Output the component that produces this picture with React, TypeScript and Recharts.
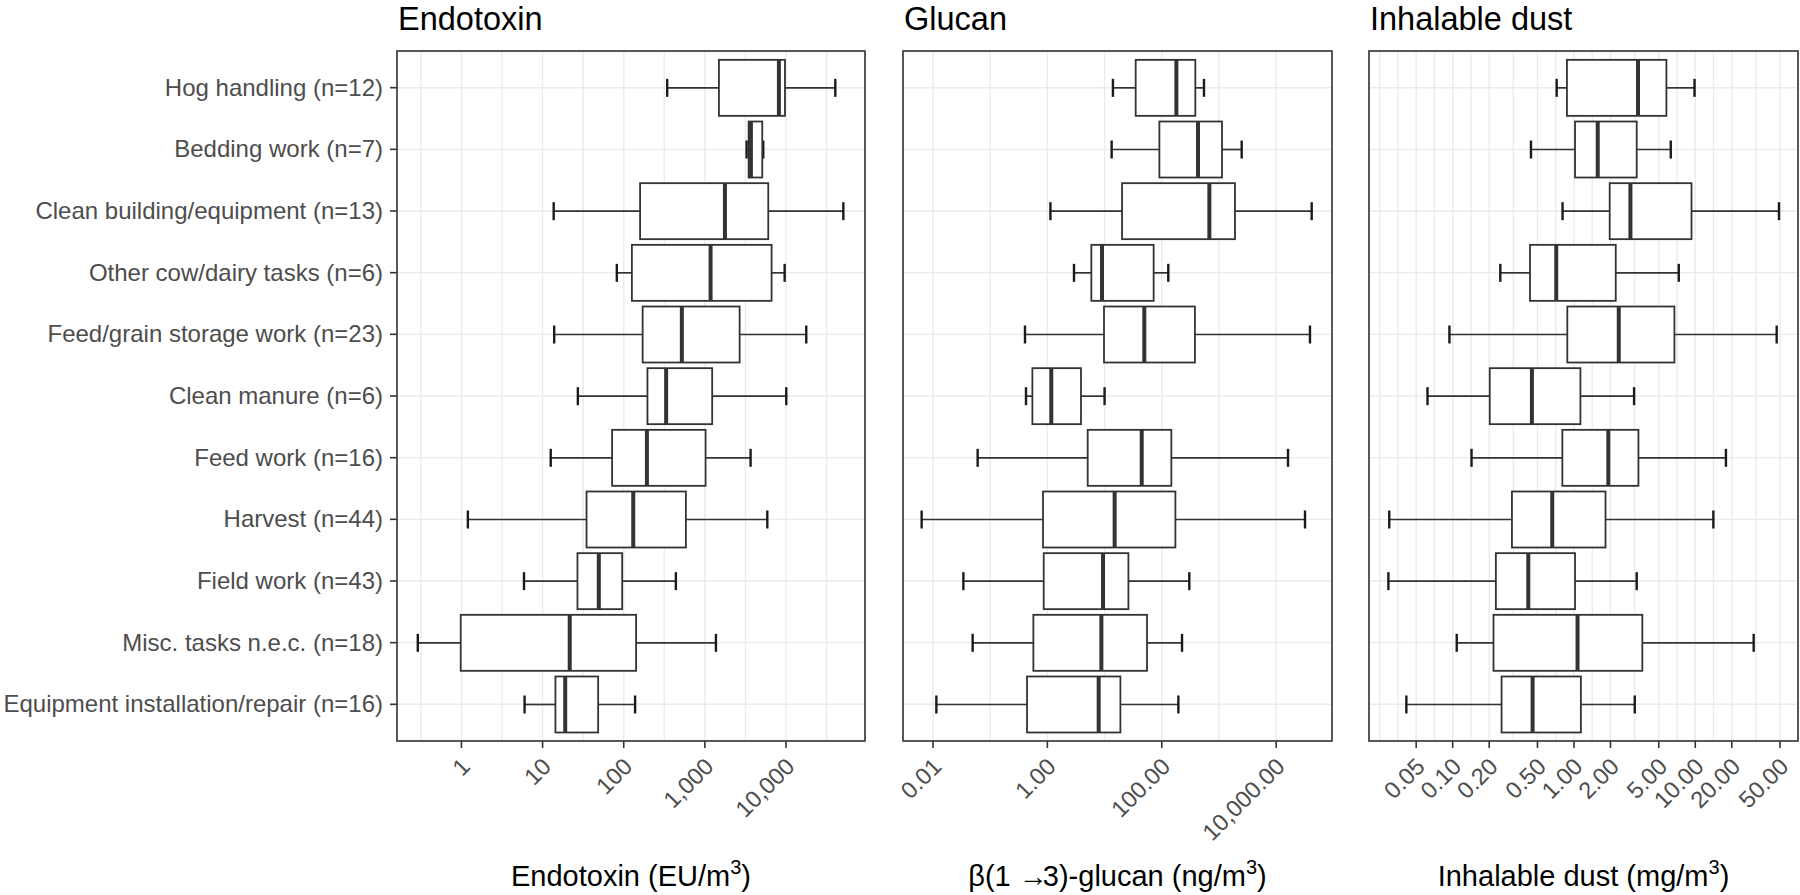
import React from 'react';
import { BarChart, Bar, XAxis, YAxis, CartesianGrid } from 'recharts';

// ---------- data ----------
const categories = [
  'Hog handling (n=12)',
  'Bedding work (n=7)',
  'Clean building/equipment (n=13)',
  'Other cow/dairy tasks (n=6)',
  'Feed/grain storage work (n=23)',
  'Clean manure (n=6)',
  'Feed work (n=16)',
  'Harvest (n=44)',
  'Field work (n=43)',
  'Misc. tasks n.e.c. (n=18)',
  'Equipment installation/repair (n=16)',
];

// Endotoxin (EU/m3)
const endoLow = [343, 3266, 13.7, 82.2, 13.9, 27.2, 12.6, 1.2, 5.9, 0.29, 6.0];
const endoQ1 = [1489, 3459, 159, 126, 171, 196, 71.9, 34.8, 26.9, 0.98, 14.4];
const endoMedian = [8166, 3690, 1766, 1175, 520, 333, 193, 131, 49.3, 21.6, 19.0];
const endoQ3 = [9705, 5093, 6039, 6637, 2679, 1230, 1019, 583, 95.7, 142, 48.4];
const endoHigh = [40460, 5236, 50816, 9616, 17742, 10069, 3656, 5875, 439, 1368, 138];

// beta(1->3)-glucan (ng/m3)
const glucanLow = [14.0, 13.3, 1.13, 2.92, 0.406, 0.423, 0.0604, 0.00634, 0.034, 0.0494, 0.01146];
const glucanQ1 = [35.0, 90.8, 20.2, 5.87, 9.77, 0.547, 5.07, 0.839, 0.863, 0.569, 0.441];
const glucanMedian = [180, 430, 679, 9.02, 49.5, 1.17, 44.6, 15.0, 9.4, 8.79, 7.89];
const glucanQ3 = [386, 1130, 1905, 72.1, 380, 3.87, 147, 173, 26.1, 55.2, 18.9];
const glucanHigh = [547, 2495, 41783, 130, 38994, 10.0, 16106, 31915, 303, 226, 195];

// Inhalable dust (mg/m3)
const dustLow = [0.72, 0.442, 0.805, 0.247, 0.094, 0.062, 0.143, 0.030, 0.0295, 0.108, 0.0415];
const dustQ1 = [0.875, 1.02, 1.97, 0.434, 0.881, 0.202, 0.802, 0.308, 0.227, 0.217, 0.253];
const dustMedian = [3.37, 1.57, 2.92, 0.714, 2.34, 0.45, 1.92, 0.662, 0.42, 1.07, 0.456];
const dustQ3 = [5.78, 3.29, 9.31, 2.21, 6.73, 1.13, 3.4, 1.82, 1.02, 3.66, 1.14];
const dustHigh = [9.86, 6.28, 49.0, 7.31, 46.9, 3.13, 17.9, 14.1, 3.29, 30.3, 3.17];

// axis ticks / limits
const endoTicks = [1, 10, 100, 1000, 10000];
const endoTickLabels = ['1', '10', '100', '1,000', '10,000'];
const endoLimits = [0.1607, 93970];

const glucanTicks = [0.01, 1, 100, 10000];
const glucanTickLabels = ['0.01', '1.00', '100.00', '10,000.00'];
const glucanLimits = [0.002992, 94620];

const dustTicks = [0.05, 0.1, 0.2, 0.5, 1, 2, 5, 10, 20, 50];
const dustTickLabels = ['0.05', '0.10', '0.20', '0.50', '1.00', '2.00', '5.00', '10.00', '20.00', '50.00'];
const dustLimits = [0.02042, 70.3];

const panelTitles = ['Endotoxin', 'Glucan', 'Inhalable dust'];

// ---------- layout ----------
const W = 1800;
const H = 895;
const PLOT_TOP = 51;
const PLOT_BOTTOM = 741;
const XAXIS_H = 60;

const FONT = '"Liberation Sans", Arial, Helvetica, sans-serif';
const LABEL_COLOR = '#4D4D4D';
const DARK = '#333333';

const log10 = (v: number) => Math.log10(v);

function minorBreaks(majors: number[], lo: number, hi: number): number[] {
  const b = [...majors];
  const bd = b[1] - b[0];
  if (lo < b[0]) b.unshift(b[0] - bd);
  if (hi > b[b.length - 1]) b.push(b[b.length - 1] + bd);
  const out: number[] = [];
  for (let i = 0; i < b.length - 1; i++) {
    out.push(b[i], (b[i] + b[i + 1]) / 2);
  }
  out.push(b[b.length - 1]);
  return out.filter(
    (v) => v >= lo && v <= hi && !majors.some((m) => Math.abs(m - v) < 1e-9)
  );
}

const BoxShape = (props: any) => {
  const { x, y, width, height, payload } = props;
  if (!payload) return null;
  const [q1, q3] = payload.box;
  const k = width / (q3 - q1);
  const px = (v: number) => x + (v - q1) * k;
  const cy = y + height / 2;
  const cap = 9;
  const xl = px(payload.lo);
  const xh = px(payload.hi);
  const xm = px(payload.med);
  return (
    <g>
      <line x1={xl} x2={x} y1={cy} y2={cy} stroke={DARK} strokeWidth={1.7} />
      <line x1={x + width} x2={xh} y1={cy} y2={cy} stroke={DARK} strokeWidth={1.7} />
      <line x1={xl} x2={xl} y1={cy - cap} y2={cy + cap} stroke="#1a1a1a" strokeWidth={2.4} />
      <line x1={xh} x2={xh} y1={cy - cap} y2={cy + cap} stroke="#1a1a1a" strokeWidth={2.4} />
      <rect x={x} y={y} width={width} height={height} fill="#FFFFFF" stroke={DARK} strokeWidth={1.8} />
      <line x1={xm} x2={xm} y1={y} y2={y + height} stroke={DARK} strokeWidth={4} />
    </g>
  );
};

type PanelSpec = {
  low: number[];
  q1: number[];
  med: number[];
  q3: number[];
  high: number[];
  ticks: number[];
  tickLabels: string[];
  limits: number[];
  chartLeft: number;
  chartWidth: number;
  plotLeft: number;
  plotRight: number;
  showY: boolean;
  yAxisWidth: number;
};

function Panel({ spec }: { spec: PanelSpec }) {
  const data = categories.map((name, i) => ({
    name,
    box: [log10(spec.q1[i]), log10(spec.q3[i])],
    lo: log10(spec.low[i]),
    med: log10(spec.med[i]),
    hi: log10(spec.high[i]),
  }));
  const lo = log10(spec.limits[0]);
  const hi = log10(spec.limits[1]);
  const majors = spec.ticks.map(log10);
  const minors = minorBreaks(majors, lo, hi);
  const allTicks = [...majors, ...minors].sort((a, b) => a - b);

  const XTick = (p: any) => {
    const v = p.payload?.value;
    const idx = majors.findIndex((m) => Math.abs(m - v) < 1e-9);
    if (idx < 0) return <g />;
    const bx = p.x + 10;
    const by = p.y + 27;
    return (
      <g>
        <line x1={p.x} x2={p.x} y1={p.y} y2={p.y + 7} stroke={DARK} strokeWidth={1.6} />
        <text
          x={bx}
          y={by}
          textAnchor="end"
          transform={`rotate(-45, ${bx}, ${by})`}
          fontSize={23.5}
          fontFamily={FONT}
          fill={LABEL_COLOR}
        >
          {spec.tickLabels[idx]}
        </text>
      </g>
    );
  };

  const YTick = (p: any) => (
    <g>
      <line x1={p.x - 7} x2={p.x} y1={p.y} y2={p.y} stroke={DARK} strokeWidth={1.6} />
      <text x={p.x - 14} y={p.y + 8} textAnchor="end" fontSize={24} fontFamily={FONT} fill={LABEL_COLOR}>
        {p.payload?.value}
      </text>
    </g>
  );

  const yW = spec.showY ? spec.yAxisWidth : 0;
  const margin = {
    top: PLOT_TOP,
    bottom: H - PLOT_BOTTOM - XAXIS_H,
    left: spec.plotLeft - spec.chartLeft - yW,
    right: spec.chartLeft + spec.chartWidth - spec.plotRight,
  };

  return (
    <div style={{ position: 'absolute', left: spec.chartLeft, top: 0 }}>
      <BarChart width={spec.chartWidth} height={H} layout="vertical" data={data} margin={margin}>
        <CartesianGrid stroke="#EBEBEB" strokeWidth={1.4} />
        <XAxis
          type="number"
          domain={[lo, hi]}
          allowDataOverflow
          ticks={allTicks}
          interval={0}
          tickSize={0}
          tickMargin={0}
          axisLine={false}
          tickLine={false}
          height={XAXIS_H}
          tick={XTick}
        />
        <YAxis
          type="category"
          dataKey="name"
          width={yW}
          hide={!spec.showY}
          interval={0}
          tickSize={0}
          tickMargin={0}
          axisLine={false}
          tickLine={false}
          padding={{ top: 5.85, bottom: 5.85 }}
          tick={YTick}
        />
        <Bar dataKey="box" barSize={56} shape={BoxShape} isAnimationActive={false} />
      </BarChart>
    </div>
  );
}

const panels: PanelSpec[] = [
  {
    low: endoLow, q1: endoQ1, med: endoMedian, q3: endoQ3, high: endoHigh,
    ticks: endoTicks, tickLabels: endoTickLabels, limits: endoLimits,
    chartLeft: 0, chartWidth: 872, plotLeft: 397, plotRight: 865, showY: true, yAxisWidth: 397,
  },
  {
    low: glucanLow, q1: glucanQ1, med: glucanMedian, q3: glucanQ3, high: glucanHigh,
    ticks: glucanTicks, tickLabels: glucanTickLabels, limits: glucanLimits,
    chartLeft: 878, chartWidth: 462, plotLeft: 903, plotRight: 1332, showY: false, yAxisWidth: 0,
  },
  {
    low: dustLow, q1: dustQ1, med: dustMedian, q3: dustQ3, high: dustHigh,
    ticks: dustTicks, tickLabels: dustTickLabels, limits: dustLimits,
    chartLeft: 1344, chartWidth: 456, plotLeft: 1369, plotRight: 1798, showY: false, yAxisWidth: 0,
  },
];

export default function App() {
  return (
    <div style={{ position: 'absolute', left: 0, top: 0, width: W, height: H, background: '#FFFFFF', overflow: 'hidden' }}>
      {panels.map((p, i) => (
        <Panel key={i} spec={p} />
      ))}
      <svg width={W} height={H} style={{ position: 'absolute', left: 0, top: 0, pointerEvents: 'none' }}>
        {panels.map((p, i) => (
          <g key={i}>
            <rect
              x={p.plotLeft}
              y={PLOT_TOP}
              width={p.plotRight - p.plotLeft}
              height={PLOT_BOTTOM - PLOT_TOP}
              fill="none"
              stroke={DARK}
              strokeWidth={1.6}
            />
            <text x={p.plotLeft + 1} y={30} fontSize={32.5} fontFamily={FONT} fill="#000000">
              {panelTitles[i]}
            </text>
          </g>
        ))}
        <text x={(panels[0].plotLeft + panels[0].plotRight) / 2} y={886} textAnchor="middle" fontSize={29} fontFamily={FONT} fill="#000000">
          Endotoxin (EU/m
          <tspan dy={-12} fontSize={20}>3</tspan>
          <tspan dy={12}>)</tspan>
        </text>
        <text x={(panels[1].plotLeft + panels[1].plotRight) / 2} y={886} textAnchor="middle" fontSize={29} fontFamily={FONT} fill="#000000">
          β(1 →
          <tspan dx={-5}>3)-glucan (ng/m</tspan>
          <tspan dy={-12} fontSize={20}>3</tspan>
          <tspan dy={12}>)</tspan>
        </text>
        <text x={(panels[2].plotLeft + panels[2].plotRight) / 2} y={886} textAnchor="middle" fontSize={29} fontFamily={FONT} fill="#000000">
          Inhalable dust (mg/m
          <tspan dy={-12} fontSize={20}>3</tspan>
          <tspan dy={12}>)</tspan>
        </text>
      </svg>
    </div>
  );
}
